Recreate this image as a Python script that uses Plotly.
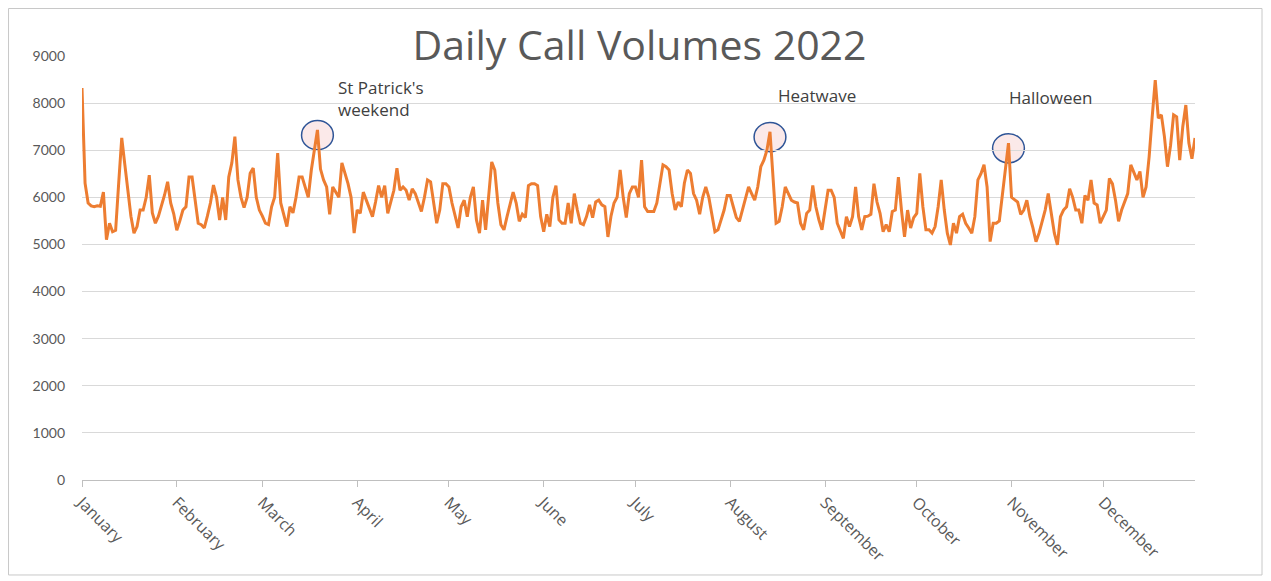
"""Daily Call Volumes 2022 - daily line with highlighted events"""

import pandas as pd
import plotly.graph_objects as go

# daily call counts
jan = [8320, 6300, 5880, 5820, 5800, 5820, 5810, 6110, 5100, 5450, 5270, 5300, 6300, 7260, 6700, 6100,
       5600, 5240, 5380, 5730, 5730, 6000, 6470, 5670, 5450, 5600, 5800, 6050, 6330, 5880, 5650]
feb = [5300, 5500, 5730, 5800, 6430, 6430, 5900, 5450, 5420, 5350, 5600, 5880, 6260, 6000, 5520, 6000,
       5520, 6430, 6730, 7290, 6370, 6000, 5780, 6000, 6510, 6620, 6000, 5730]
mar = [5600, 5450, 5420, 5800, 6000, 6940, 5880, 5600, 5380, 5800, 5670, 6000, 6430, 6430, 6200, 6000,
       6580, 7000, 7430, 6600, 6370, 6220, 5640, 6220, 6100, 6000, 6730, 6500, 6290, 6000, 5240]
apr = [5730, 5660, 6110, 5940, 5800, 5590, 5900, 6250, 6000, 6250, 5660, 5940, 6150, 6620, 6150, 6220,
       6150, 5940, 6180, 6080, 5880, 5700, 6000, 6370, 6330, 5880, 5450, 5730, 6290, 6290]
may = [6220, 5880, 5600, 5350, 5800, 5940, 5590, 6000, 6220, 5520, 5240, 5940, 5310, 6000, 6750, 6580,
       5880, 5420, 5310, 5590, 5880, 6110, 5880, 5490, 5640, 5570, 6250, 6290, 6290, 6250, 5590]
jun = [5270, 5640, 5380, 6000, 6250, 5520, 5450, 5450, 5880, 5450, 6080, 5730, 5450, 5420, 5590, 5840,
       5570, 5900, 5940, 5840, 5800, 5160, 5600, 5880, 6000, 6580, 6000, 5570, 6080, 6220]
jul = [6220, 6000, 6790, 5800, 5700, 5700, 5700, 5880, 6290, 6690, 6650, 6580, 6080, 5730, 5900, 5800,
       6300, 6580, 6510, 6080, 5940, 5640, 6000, 6220, 6000, 5660, 5270, 5310, 5500, 5730, 6040]
aug = [6040, 5800, 5570, 5490, 5730, 6000, 6220, 6080, 5940, 6220, 6650, 6790, 7000, 7390, 6430, 5450,
       5490, 5800, 6220, 6080, 5940, 5900, 5880, 5450, 5310, 5660, 5730, 6250, 5800, 5520, 5310]
sep = [5730, 6150, 6150, 6000, 5450, 5300, 5130, 5590, 5380, 5590, 6220, 5590, 5310, 5590, 5600, 5640,
       6290, 5900, 5660, 5270, 5420, 5270, 5700, 5730, 6430, 5730, 5160, 5730, 5350, 5570]
oct_ = [5660, 6510, 5800, 5310, 5310, 5240, 5380, 5800, 6370, 5730, 5240, 4990, 5450, 5240, 5590, 5640,
        5450, 5350, 5240, 5590, 6370, 6500, 6690, 6220, 5060, 5450, 5450, 5500, 6080, 6580, 7150]
nov = [6000, 5940, 5900, 5640, 5730, 5940, 5590, 5350, 5060, 5240, 5500, 5730, 6080, 5660, 5240, 4990,
       5590, 5730, 5800, 6180, 6000, 5730, 5730, 5450, 6040, 5940, 6370, 5880, 5840, 5450]
dec = [5600, 5730, 6400, 6290, 5940, 5490, 5730, 5900, 6080, 6690, 6510, 6370, 6550, 6000, 6220, 6860,
       7710, 8490, 7680, 7750, 7290, 6650, 7100, 7750, 7710, 6790, 7500, 7960, 7150, 6820, 7260]

calls = jan + feb + mar + apr + may + jun + jul + aug + sep + oct_ + nov + dec
dates = pd.date_range("2022-01-01", periods=len(calls), freq="D")

month_names = ["January", "February", "March", "April", "May", "June", "July",
               "August", "September", "October", "November", "December"]
month_starts = pd.date_range("2022-01-01", periods=12, freq="MS")

event_names = ["St Patrick's<br>weekend", "Heatwave", "Halloween"]
event_dates = ["2022-03-19", "2022-08-14", "2022-10-31"]

GREY = "#595959"
ORANGE = "#ED7D31"

fig = go.Figure()

fig.add_trace(
    go.Scatter(
        x=dates,
        y=calls,
        mode="lines",
        line=dict(color=ORANGE, width=3),
        hoverinfo="x+y",
    )
)

series = pd.Series(calls, index=dates)
shapes = []
annotations = []
label_shift = [6, 2, -0.5]  # days between peak and label start
label_y = [8100, 8170, 8110]
for name, day, shift, ly in zip(event_names, event_dates, label_shift, label_y):
    d = pd.Timestamp(day)
    peak = series[d]
    centre = peak - 110
    shapes.append(
        dict(
            type="circle",
            xref="x",
            yref="y",
            x0=d - pd.Timedelta(days=5.2),
            x1=d + pd.Timedelta(days=5.2),
            y0=centre - 310,
            y1=centre + 310,
            line=dict(color="#2F5597", width=1.5),
            fillcolor="rgba(248, 215, 215, 0.55)",
            layer="below",
        )
    )
    annotations.append(
        dict(
            x=d + pd.Timedelta(days=shift),
            y=ly,
            xref="x",
            yref="y",
            text=name,
            showarrow=False,
            xanchor="left",
            yanchor="middle",
            align="left",
            font=dict(family="Open Sans, sans-serif", size=17, color="#404040"),
        )
    )

# light frame around the whole chart
shapes.append(
    dict(
        type="rect",
        xref="paper",
        yref="paper",
        x0=-0.066,
        x1=1.0602,
        y0=-0.224,
        y1=1.112,
        line=dict(color="#c8c8c8", width=1),
        fillcolor="rgba(0,0,0,0)",
        layer="below",
    )
)

fig.update_layout(
    width=1263,
    height=573,
    plot_bgcolor="white",
    paper_bgcolor="white",
    font=dict(family="Lato, sans-serif", color=GREY),
    title=dict(
        text="Daily Call Volumes 2022",
        x=0.5,
        xanchor="center",
        y=0.935,
        yanchor="middle",
        font=dict(family="Open Sans, sans-serif", size=41, color=GREY),
    ),
    xaxis=dict(
        type="date",
        range=[dates[0], dates[-1]],
        tickvals=month_starts,
        ticktext=month_names,
        tickangle=45,
        ticks="outside",
        ticklen=6,
        tickcolor="#bfbfbf",
        showline=True,
        linecolor="#bfbfbf",
        showgrid=False,
        zeroline=False,
        tickfont=dict(family="Open Sans, sans-serif", size=16, color=GREY),
    ),
    yaxis=dict(
        range=[0, 9000],
        dtick=1000,
        showgrid=True,
        gridcolor="#d9d9d9",
        gridwidth=1,
        zeroline=False,
        showline=False,
        ticks="",
        ticklabelstandoff=16,
        tickfont=dict(size=14, color=GREY),
    ),
    showlegend=False,
    margin=dict(l=74, r=76, t=48, b=101),
    shapes=shapes,
    annotations=annotations,
)

fig.write_html("out.html")
